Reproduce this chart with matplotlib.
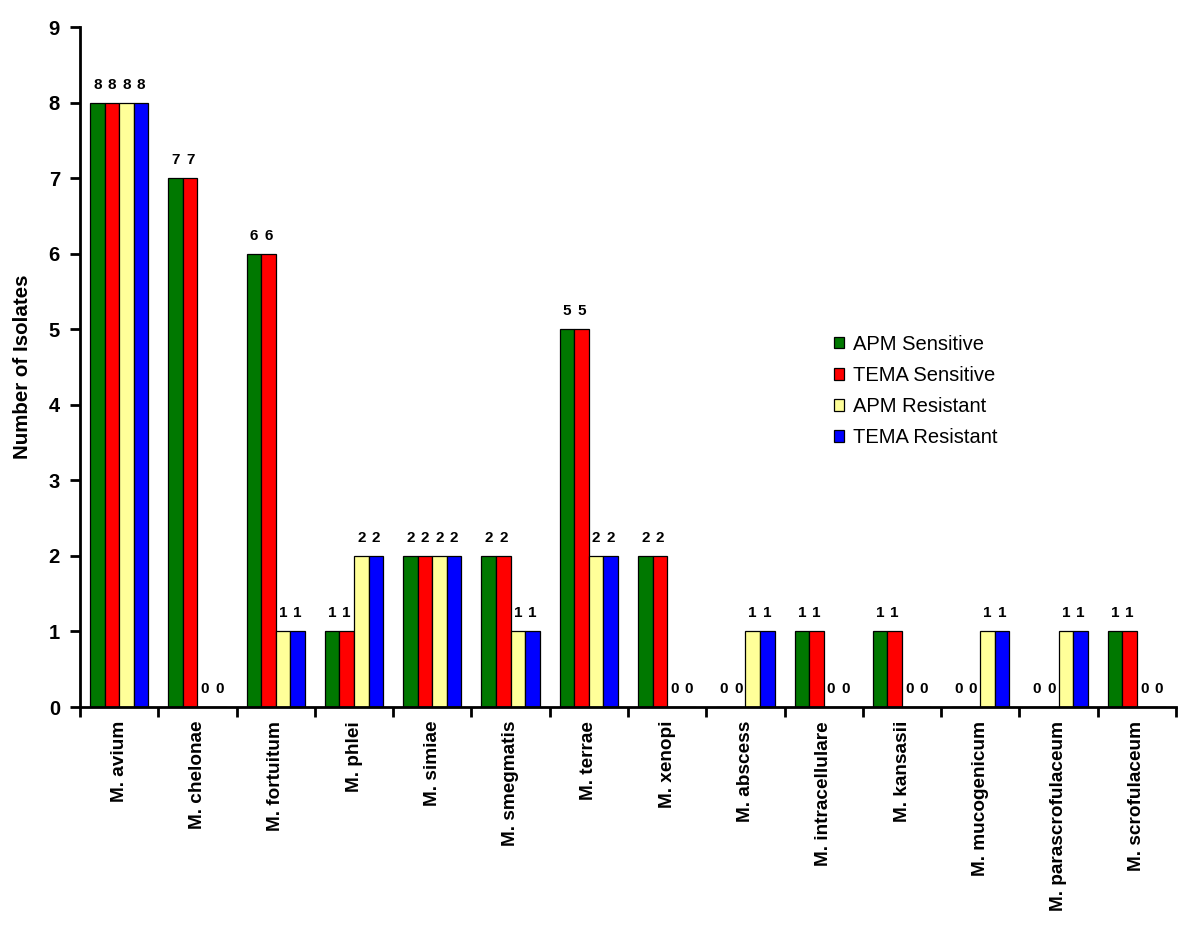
import matplotlib
matplotlib.use("Agg")
import matplotlib.pyplot as plt
import numpy as np

categories = ["M. avium", "M. chelonae", "M. fortuitum", "M. phlei", "M. simiae",
              "M. smegmatis", "M. terrae", "M. xenopi", "M. abscess", "M. intracellulare",
              "M. kansasii", "M. mucogenicum", "M. parascrofulaceum", "M. scrofulaceum"]
apm_sensitive = [8, 7, 6, 1, 2, 2, 5, 2, 0, 1, 1, 0, 0, 1]
tema_sensitive = [8, 7, 6, 1, 2, 2, 5, 2, 0, 1, 1, 0, 0, 1]
apm_resistant = [8, 0, 1, 2, 2, 1, 2, 0, 1, 0, 0, 1, 1, 0]
tema_resistant = [8, 0, 1, 2, 2, 1, 2, 0, 1, 0, 0, 1, 1, 0]
series_names = ["APM Sensitive", "TEMA Sensitive", "APM Resistant", "TEMA Resistant"]
colors = ["#007800", "#ff0000", "#ffff99", "#0000ff"]

plt.rcParams['font.family'] = ['Liberation Sans', 'DejaVu Sans']

fig = plt.figure(figsize=(12, 9.32), dpi=100)
ax = fig.add_axes([0.0667, 0.2414, 0.9133, 0.7296])

x = np.arange(len(categories))
w = 0.186
series = [apm_sensitive, tema_sensitive, apm_resistant, tema_resistant]
for i, (vals, name, c) in enumerate(zip(series, series_names, colors)):
    pos = x + (i - 1.5) * w
    ax.bar(pos, vals, width=w, color=c, edgecolor="black", linewidth=0.9, label=name)
    for p, v in zip(pos, vals):
        ax.annotate(str(v), (p, v), xytext=(0, 13), textcoords="offset points",
                    ha="center", va="center", fontsize=11, fontweight="bold")

ax.set_xlim(-0.5, len(categories) - 0.5)
ax.set_ylim(0, 9)
ax.set_yticks(range(10))
ax.set_yticklabels([str(i) for i in range(10)], fontsize=14.5, fontweight="bold")
ax.set_xticks(np.arange(-0.5, len(categories), 1.0))
ax.set_xticklabels([])
ax.set_xticks(x, minor=True)
ax.set_xticklabels(categories, minor=True, rotation=90, fontsize=13.7, fontweight="bold")
ax.tick_params(axis="x", which="minor", length=0, pad=10)
ax.tick_params(axis="x", which="major", length=7, width=2, direction="out")
ax.tick_params(axis="y", length=7, width=2, direction="out", pad=7.5)

for s in ["top", "right"]:
    ax.spines[s].set_visible(False)
for s in ["left", "bottom"]:
    ax.spines[s].set_linewidth(2)

ax.set_ylabel("Number of Isolates", fontsize=14.8, fontweight="bold", labelpad=12)

leg = ax.legend(loc="upper left", bbox_to_anchor=(0.671, 0.574), frameon=False,
                fontsize=14.5, handlelength=0.5, handleheight=0.5, handletextpad=0.45,
                labelspacing=0.6)

fig.savefig("out.png", dpi=100)
